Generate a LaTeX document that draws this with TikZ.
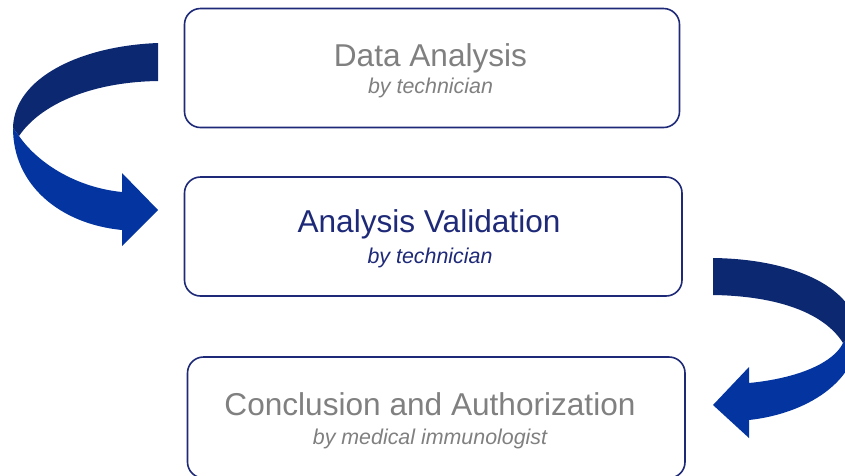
\documentclass[tikz,border=0pt]{standalone}
\usepackage{fontspec}
\setmainfont{Liberation Sans}
\definecolor{navy}{RGB}{30,42,120}
\definecolor{txtgray}{RGB}{128,128,128}
\definecolor{ribdark}{RGB}{12,40,112}
\definecolor{ribbright}{RGB}{3,52,160}
\tikzset{
  stagebox/.style={draw=navy, line width=1.6pt, rounded corners=16pt, fill=white},
  titletext/.style={anchor=base, font=\fontsize{31.6}{36}\selectfont},
  subtext/.style={anchor=base, font=\fontsize{21.4}{25}\selectfont\itshape},
  ribback/.style={fill=ribdark, draw=none},
  ribfront/.style={fill=ribbright, draw=none}
}
\begin{document}
\begin{tikzpicture}[x=1pt,y=-1pt]
\useasboundingbox (0,0) rectangle (845,475);
\clip (0,0) rectangle (845,475);
% boxes
\draw[stagebox] (184.5,8.5) rectangle (679.5,127.5);
\node[coordinate] (b1) at (432,68) {};
\draw[stagebox] (184.5,177) rectangle (682,296);
\node[coordinate] (b2) at (433,236) {};
\draw[stagebox] (187.5,357) rectangle (685,478);
\node[coordinate] (b3) at (436,416) {};
% texts
\node[titletext, text=txtgray] (t1) at (430.5,66) {Data Analysis};
\node[subtext, text=txtgray] (s1) at (430.5,93) {by technician};
\node[titletext, text=navy] (t2) at (429,232) {Analysis Validation};
\node[subtext, text=navy] (s2) at (430,263) {by technician};
\node[titletext, text=txtgray] (t3) at (430,415) {Conclusion and Authorization};
\node[subtext, text=txtgray] (s3) at (430,444) {by medical immunologist};
% left ribbon arrow
\fill[ribback] (158,43) .. controls (80,46) and (14,78) .. (13,128)
  -- (19,136) .. controls (40,105) and (90,82) .. (158,81) -- cycle;
\fill[ribfront] (13,128) .. controls (13,185) and (60,224) .. (122,230)
  -- (122,246) -- (158,210) -- (122,173) -- (122,192)
  .. controls (80,188) and (40,166) .. (19,136) -- cycle;
% right ribbon arrow
\fill[ribback] (713,258) .. controls (790,259) and (852,285) .. (858,330)
  -- (843,343) .. controls (825,314) and (780,296) .. (713,295) -- cycle;
\fill[ribfront] (858,330) .. controls (860,382) and (805,414) .. (749,420)
  -- (749,438) -- (713,405) -- (749,367) -- (749,383)
  .. controls (800,378) and (834,362) .. (843,343) -- cycle;
\end{tikzpicture}
\end{document}
